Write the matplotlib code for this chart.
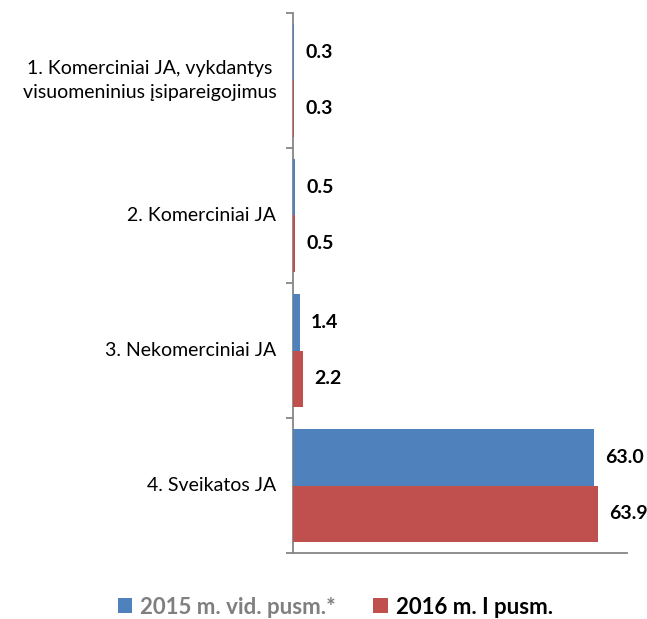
import numpy as np
import matplotlib
matplotlib.use('Agg')
import matplotlib.pyplot as plt

# duomenys
kategorijos = ['1. Komerciniai JA, vykdantys\nvisuomeninius įsipareigojimus',
               '2. Komerciniai JA',
               '3. Nekomerciniai JA',
               '4. Sveikatos JA']
v2015 = [0.3, 0.5, 1.4, 63.0]
v2016 = [0.3, 0.5, 2.2, 63.9]
serijos = ['2015 m. vid. pusm.*', '2016 m. I pusm.']

plt.rcParams['font.family'] = ['Lato', 'DejaVu Sans']

mel = '#4F81BD'
raud = '#C0504D'
pilka = '#868686'

fig = plt.figure(figsize=(6.47, 6.19), dpi=100)
ax = fig.add_axes([293/647, 66/619, 334/647, 540/619])

n = len(kategorijos)
y = np.arange(n)[::-1]
h = 0.415

b1 = ax.barh(y + h/2, v2015, height=h, color=mel, label=serijos[0], zorder=3)
b2 = ax.barh(y - h/2, v2016, height=h, color=raud, label=serijos[1], zorder=3)

# reiksmiu etiketes
for bars, vals in ((b1, v2015), (b2, v2016)):
    for b, v in zip(bars, vals):
        ax.annotate('{:.1f}'.format(v), (b.get_width(), b.get_y() + b.get_height()/2),
                    xytext=(8, 0), textcoords='offset points', ha='left', va='center',
                    fontsize=14, fontweight='bold', color='black')

ax.set_xlim(0, 70)
ax.set_ylim(-0.5, n - 0.5)

ax.spines['top'].set_visible(False)
ax.spines['right'].set_visible(False)
ax.spines['left'].set_color(pilka)
ax.spines['bottom'].set_color(pilka)
ax.spines['left'].set_linewidth(1.3)
ax.spines['bottom'].set_linewidth(1.3)

ax.set_xticks([])
ax.set_yticks([])
ax.set_yticks(np.arange(-0.5, n, 1.0), minor=True)
ax.tick_params(axis='y', which='minor', length=5, width=1.3, color=pilka)

# kategoriju pavadinimai (tick labels nepriima linespacing, tai rasom ranka)
for yi, lab in zip(y, kategorijos):
    ax.annotate(lab, xy=(0, yi), xycoords=ax.get_yaxis_transform(),
                xytext=(-12, 0), textcoords='offset points',
                ha='right', va='center', multialignment='center',
                linespacing=1.45, fontsize=14)

leg = fig.legend(handles=[b1, b2], loc='center', bbox_to_anchor=(0.518, 1 - 607/619),
                 ncol=2, frameon=False, handlelength=0.65, handleheight=0.65,
                 handletextpad=0.35, columnspacing=1.7,
                 prop={'size': 16, 'weight': 'bold'})
leg.get_texts()[0].set_color('#7F7F7F')
leg.get_texts()[1].set_color('black')

fig.savefig('out.png', dpi=100)
